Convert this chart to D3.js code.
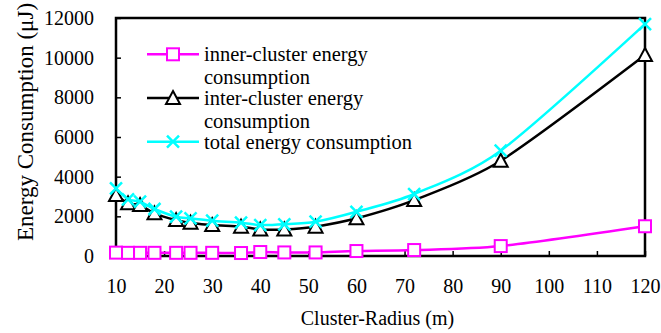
<!DOCTYPE html>
<html>
<head>
<meta charset="utf-8">
<script src="https://cdn.jsdelivr.net/npm/d3@7"></script>
<style>
  body { margin: 0; background: #fff; }
  svg { display: block; font-family: "Liberation Serif", "Times New Roman", serif; }
</style>
</head>
<body>
<svg id="vis" width="661" height="333"></svg>
<script>
// data
var radius = [10, 12.5, 15, 18, 22.5, 25.5, 30, 36, 40, 45, 51.5, 60, 72, 90, 120];
var innerEnergy = [170, 160, 160, 160, 160, 160, 160, 150, 200, 180, 180, 250, 300, 500, 1500];
var interEnergy = [3070, 2660, 2570, 2150, 1810, 1680, 1560, 1480, 1340, 1340, 1480, 1900, 2820, 4800, 10130];
var totalEnergy = [3410, 2860, 2740, 2370, 1980, 1900, 1780, 1680, 1560, 1600, 1730, 2230, 3125, 5310, 11690];
var xTicks = [10, 20, 30, 40, 50, 60, 70, 80, 90, 100, 110, 120];
var yTicks = [0, 2000, 4000, 6000, 8000, 10000, 12000];

var MARGINS = {top: 18, right: 16, bottom: 77, left: 116};
var width = 661, height = 333;

var display = d3.select("#vis");

var x = d3.scaleLinear().domain([10, 120]).range([MARGINS.left, width - MARGINS.right]);
var y = d3.scaleLinear().domain([0, 12000]).range([height - MARGINS.bottom, MARGINS.top]);

// series, drawn in Excel order so total ends on top
var series = [
    {name: ["inner-cluster energy", "consumption"], values: innerEnergy, color: "#ff00ff", marker: "square"},
    {name: ["inter-cluster energy", "consumption"], values: interEnergy, color: "#000000", marker: "triangle"},
    {name: ["total energy consumption"], values: totalEnergy, color: "#00ffff", marker: "cross"}
];

// axes with inward ticks, plain number format
var xAxis = d3.axisBottom(x).tickValues(xTicks).tickSizeInner(-5).tickSizeOuter(0)
    .tickFormat(d3.format("d"));
var yAxis = d3.axisLeft(y).tickValues(yTicks).tickSizeInner(-5).tickSizeOuter(0)
    .tickFormat(d3.format("d"));

var gx = display.append("g")
    .attr("transform", `translate(0, ${y(0)})`)
    .call(xAxis);
var gy = display.append("g")
    .attr("transform", `translate(${x(10)}, 0)`)
    .call(yAxis);

[gx, gy].forEach(function (g) {
    // drop d3's default sans font so the serif from the svg is used
    g.attr("font-family", null).attr("font-size", null);
    g.select(".domain").remove();
    g.selectAll(".tick line").attr("stroke", "#000").attr("stroke-width", 1.5);
    g.selectAll(".tick text")
        .attr("fill", "#000")
        .style("font-size", "20px");
});
gx.selectAll(".tick text").attr("dy", null).attr("y", 293 - y(0));
gy.selectAll(".tick text").attr("x", 94 - x(10)).attr("dy", "0.33em");

// plot frame
display.append("rect")
    .attr("x", x(10))
    .attr("y", y(12000))
    .attr("width", x(120) - x(10))
    .attr("height", y(0) - y(12000))
    .attr("fill", "none")
    .attr("stroke", "#000")
    .attr("stroke-width", 2.5);

// marker drawing helper
function drawMarker(g, type, color, cx, cy) {
    var s = 6;
    if (type === "square") {
        g.append("rect")
            .attr("x", cx - s).attr("y", cy - s)
            .attr("width", 2 * s).attr("height", 2 * s)
            .attr("fill", "#fff").attr("stroke", color).attr("stroke-width", 2);
    } else if (type === "triangle") {
        g.append("path")
            .attr("d", `M${cx},${cy - s - 1}L${cx + s + 1},${cy + s}L${cx - s - 1},${cy + s}Z`)
            .attr("fill", "#fff").attr("stroke", color).attr("stroke-width", 2);
    } else {
        g.append("path")
            .attr("d", `M${cx - s},${cy - s}L${cx + s},${cy + s}M${cx - s},${cy + s}L${cx + s},${cy - s}`)
            .attr("fill", "none").attr("stroke", color).attr("stroke-width", 2.5);
    }
}

var line = d3.line()
    .x(function (d, i) { return x(radius[i]); })
    .y(function (d) { return y(d); })
    .curve(d3.curveCardinal.tension(0.2));

series.forEach(function (s) {
    var g = display.append("g");
    g.append("path")
        .attr("d", line(s.values))
        .attr("fill", "none")
        .attr("stroke", s.color)
        .attr("stroke-width", 2.5);
    s.values.forEach(function (v, i) {
        drawMarker(g, s.marker, s.color, x(radius[i]), y(v));
    });
});

// legend
var legendTop = 54.3;
series.forEach(function (s, i) {
    var ly = legendTop + i * 43.7;
    var g = display.append("g").attr("class", "legend");
    g.append("line")
        .attr("x1", 147).attr("x2", 199)
        .attr("y1", ly).attr("y2", ly)
        .attr("stroke", s.color).attr("stroke-width", 2.5);
    drawMarker(g, s.marker, s.color, 173, ly);
    s.name.forEach(function (t, j) {
        g.append("text")
            .attr("x", 204)
            .attr("y", ly + 7 + j * 23)
            .style("font-size", "20.5px")
            .attr("fill", "#000")
            .text(t);
    });
});

// axis titles
display.append("text")
    .attr("x", (x(10) + x(120)) / 2 - 3)
    .attr("y", 325)
    .attr("text-anchor", "middle")
    .style("font-size", "20px")
    .text("Cluster-Radius (m)");

display.append("text")
    .attr("transform", "translate(33, 241) rotate(-90)")
    .attr("text-anchor", "start")
    .style("font-size", "23px")
    .text("Energy Consumption (μJ)");
</script>
</body>
</html>
